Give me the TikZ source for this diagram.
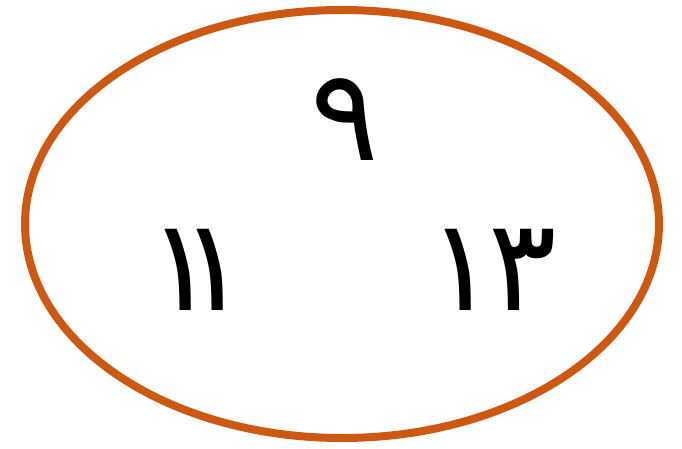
\documentclass[tikz,border=0pt]{standalone}
\usepackage{fontspec}
\newfontfamily\arabicfont[Script=Arabic]{DejaVu Sans}
\definecolor{setorange}{RGB}{205,88,18}
\tikzset{
  digit/.style={inner sep=0pt, font=\arabicfont\fontsize{96}{110}\selectfont}
}

\begin{document}
\begin{tikzpicture}[x=0.75pt, y=-0.75pt]
      % frame of the picture
      \useasboundingbox (0,0) rectangle (682,449);

      % the set
      \draw[setorange, line width=6pt] (342,224) ellipse (317 and 214);

      % its members
      \node[digit] (nine) at (345,120) {٩};
      \node[digit] (eleven) at (198,270) {١\kern-28pt١};
      \node[digit] (thirteen) at (492,270) {١\kern-6pt٣};
\end{tikzpicture}
\end{document}
